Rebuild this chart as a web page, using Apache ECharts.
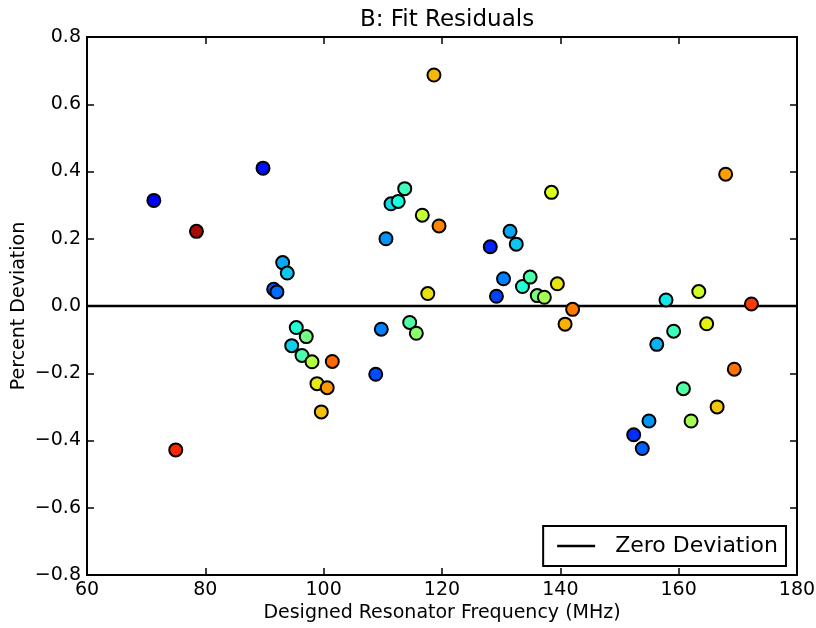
<!DOCTYPE html>
<html>
<head>
<meta charset="utf-8">
<script src="https://cdn.jsdelivr.net/npm/echarts@6/dist/echarts.min.js"></script>
<style>html,body{margin:0;padding:0;background:#fff;}#c{width:816px;height:628px;}</style>
</head>
<body>
<div id="c"></div>
<script>
// Designed resonator frequency (MHz)
const freq = [71.3, 75.0, 78.5, 89.75, 91.55, 92.1, 93.07, 93.85, 94.6, 95.37, 96.34, 97.06, 98.03, 98.87, 99.6, 100.6, 101.46,
  108.8, 109.74, 110.53, 111.38, 112.6, 113.7, 114.54, 115.66, 116.67, 117.6, 118.64, 119.5,
  128.16, 129.2, 130.4, 131.5, 132.55, 133.6, 134.9, 136.1, 137.3, 138.5, 139.5, 140.8, 142.08,
  152.4, 153.85, 154.98, 156.3, 157.86, 159.15, 160.8, 162.1, 163.4, 164.73, 166.5, 167.94, 169.4, 172.3];
// Percent deviation
const deviation = [0.314, -0.428, 0.222, 0.410, 0.050, 0.042, 0.129, 0.098, -0.118, -0.064, -0.147, -0.091, -0.166, -0.231, -0.315, -0.243, -0.165,
  -0.203, -0.069, 0.200, 0.304, 0.311, 0.349, -0.049, -0.081, 0.270, 0.037, 0.687, 0.238,
  0.176, 0.029, 0.081, 0.222, 0.184, 0.058, 0.086, 0.031, 0.026, 0.338, 0.066, -0.054, -0.010,
  -0.383, -0.424, -0.342, -0.114, 0.018, -0.075, -0.246, -0.342, 0.043, -0.053, -0.300, 0.392, -0.188, 0.006];
// Colour-mapped value (jet colormap, 0..1)
const colorValue = [0.12, 0.87, 0.96, 0.14, 0.21, 0.23, 0.29, 0.32, 0.33, 0.39, 0.44, 0.49, 0.57, 0.65, 0.70, 0.75, 0.80,
  0.20, 0.25, 0.27, 0.34, 0.38, 0.42, 0.45, 0.52, 0.59, 0.66, 0.71, 0.77,
  0.16, 0.19, 0.25, 0.29, 0.32, 0.39, 0.44, 0.50, 0.55, 0.62, 0.66, 0.72, 0.78,
  0.17, 0.22, 0.27, 0.30, 0.35, 0.42, 0.45, 0.55, 0.60, 0.64, 0.69, 0.74, 0.79, 0.85];
const xRange = [60, 180];
const yRange = [-0.8, 0.8];
const zeroLine = [[60, 0], [180, 0]];

const points = freq.map((f, i) => [f, deviation[i], colorValue[i]]);
const jet = ['#000080', '#0000ff', '#0080ff', '#15ffe2', '#7bff7b', '#e2ff15', '#ff9700', '#ff2100', '#800000'];
const font = 'DejaVu Sans';
const minus = v => String(v).replace('-', '\u2212');

const chart = echarts.init(document.getElementById('c'), null, {renderer: 'canvas'});
const tick = {show: true, inside: true, length: 7, lineStyle: {color: '#000', width: 1.5}};
const line = {show: true, onZero: false, lineStyle: {color: '#000', width: 2}};
chart.setOption({
  animation: false,
  backgroundColor: '#fff',
  title: {text: 'B: Fit Residuals', left: 442, textAlign: 'center', top: 4,
    textStyle: {fontFamily: font, fontSize: 23, fontWeight: 'normal', color: '#000'}},
  grid: {left: 87, right: 19, top: 37, bottom: 53, containLabel: false, outerBoundsMode: 'none'},
  legend: {
    data: [{name: 'Zero Deviation', icon: 'rect'}],
    right: 30, bottom: 62, orient: 'horizontal',
    itemWidth: 38, itemHeight: 2.5, itemGap: 10,
    padding: [9, 8, 9, 14],
    borderColor: '#000', borderWidth: 2, borderRadius: 0, backgroundColor: '#fff',
    textStyle: {fontFamily: font, fontSize: 22, color: '#000', padding: [0, 0, 0, 15]}
  },
  visualMap: {type: 'continuous', show: false, min: 0, max: 1, dimension: 2, seriesIndex: 1,
    inRange: {color: jet}},
  xAxis: [{
    type: 'value', min: xRange[0], max: xRange[1], interval: 20, position: 'bottom',
    name: 'Designed Resonator Frequency (MHz)', nameLocation: 'middle', nameGap: 29, nameMoveOverlap: false,
    nameTextStyle: {fontFamily: font, fontSize: 19, color: '#000'},
    axisLine: line, axisTick: tick, splitLine: {show: false},
    axisLabel: {fontFamily: font, fontSize: 19, color: '#000', margin: 6, formatter: v => minus(v)}
  }, {
    type: 'value', min: xRange[0], max: xRange[1], interval: 20, position: 'top',
    axisLine: line, axisTick: tick, splitLine: {show: false}, axisLabel: {show: false}
  }],
  yAxis: [{
    type: 'value', min: yRange[0], max: yRange[1], interval: 0.2, position: 'left',
    name: 'Percent Deviation', nameLocation: 'middle', nameGap: 58, nameMoveOverlap: false,
    nameTextStyle: {fontFamily: font, fontSize: 19, color: '#000'},
    axisLine: line, axisTick: tick, splitLine: {show: false},
    axisLabel: {fontFamily: font, fontSize: 19, color: '#000', margin: 6, formatter: v => minus(v.toFixed(1))}
  }, {
    type: 'value', min: yRange[0], max: yRange[1], interval: 0.2, position: 'right',
    axisLine: line, axisTick: tick, splitLine: {show: false}, axisLabel: {show: false}
  }],
  series: [{
    name: 'Zero Deviation', type: 'line', data: zeroLine, symbol: 'none', z: 2,
    lineStyle: {color: '#000', width: 2.5}, itemStyle: {color: '#000'}
  }, {
    name: 'points', type: 'scatter', data: points, symbolSize: 13, z: 3,
    itemStyle: {borderColor: '#000', borderWidth: 2, opacity: 1}
  }]
});
</script>
</body>
</html>
